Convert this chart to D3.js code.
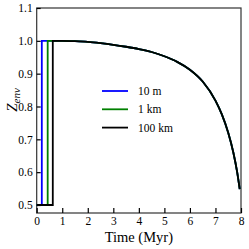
<!DOCTYPE html>
<html><head><meta charset="utf-8">
<script src="https://cdn.jsdelivr.net/npm/d3@7"></script>
<style>body{margin:0;background:#fff}svg{display:block}text{font-family:'Liberation Serif','Times New Roman','DejaVu Serif',serif}</style>
</head><body>
<svg id="c" width="249" height="249"></svg>
<script>
const seriesNames = ["10 m", "1 km", "100 km"];
const seriesColors = ["#0000ff", "#008000", "#000000"];
const jumpTimes = [0.2, 0.43, 0.63];
const curveT = [1.0, 1.5, 2.0, 2.5, 3.0, 3.5, 4.0, 4.5, 5.0, 5.5, 6.0, 6.5, 7.0, 7.25, 7.5, 7.7, 7.85, 7.95];
const curveV = [1.0, 0.999, 0.997, 0.993, 0.988, 0.982, 0.975, 0.966, 0.953, 0.936, 0.912, 0.876, 0.818, 0.776, 0.720, 0.660, 0.600, 0.548];
const xTicks = [0,1,2,3,4,5,6,7,8];
const yTicks = [0.5,0.6,0.7,0.8,0.9,1.0,1.1];

const FONT = "'Liberation Serif','Times New Roman','DejaVu Serif',serif";
const svg = d3.select("#c");
const L = 36.7, R = 241, T = 8, B = 213;
const x = d3.scaleLinear().domain([0, 8]).range([L, R]);
const y = d3.scaleLinear().domain([0.5, 1.1]).range([205, T]);

// frame
svg.append("rect").attr("x", L).attr("y", T).attr("width", R - L).attr("height", B - T)
  .attr("fill", "none").attr("stroke", "#333").attr("stroke-width", 1.2);

// axes (inward ticks)
const xa = svg.append("g").attr("transform", `translate(0,${B})`)
  .call(d3.axisBottom(x).tickValues(xTicks).tickSizeInner(-5).tickSizeOuter(0).tickPadding(4).tickFormat(d3.format("d")));
const ya = svg.append("g").attr("transform", `translate(${L},0)`)
  .call(d3.axisLeft(y).tickValues(yTicks).tickSizeInner(-4).tickSizeOuter(0).tickPadding(4).tickFormat(d3.format(".1f")));
[xa, ya].forEach(g => {
  g.attr("font-family", FONT);
  g.select(".domain").remove();
  g.selectAll("line").attr("stroke", "#000").attr("stroke-width", 1.2);
  g.selectAll("text").style("font-family", FONT).attr("font-size", 11.5).attr("fill", "#000");
});

const straight = d3.line().x(d => x(d[0])).y(d => y(d[1]));
const smooth = d3.line().x(d => x(d[0])).y(d => y(d[1])).curve(d3.curveMonotoneX);
seriesNames.forEach((n, i) => {
  const head = [[0, 0.5], [jumpTimes[i], 0.5], [jumpTimes[i], 1.0]];
  const tail = [[jumpTimes[i], 1.0]];
  curveT.forEach((t, k) => tail.push([t, curveV[k]]));
  svg.append("path").attr("d", straight(head) + "L" + smooth(tail).slice(1))
    .attr("fill", "none").attr("stroke", seriesColors[i]).attr("stroke-width", 1.8);
});

// legend
seriesNames.forEach((n, i) => {
  const ly = 91 + i * 18.3;
  svg.append("line").attr("x1", 102).attr("x2", 128).attr("y1", ly).attr("y2", ly)
    .attr("stroke", seriesColors[i]).attr("stroke-width", 1.8);
  svg.append("text").attr("x", 138).attr("y", ly + 4).text(n)
    .style("font-family", FONT).attr("font-size", 11.5).attr("fill", "#000");
});

// axis titles
svg.append("text").attr("x", (L + R) / 2).attr("y", 242).attr("text-anchor", "middle")
  .style("font-family", FONT).attr("font-size", 14.5).text("Time (Myr)");
const yl = svg.append("text").attr("transform", "translate(17,100) rotate(-90)").attr("text-anchor", "middle")
  .style("font-family", FONT).attr("font-size", 15);
yl.append("tspan").attr("font-style", "italic").text("Z");
yl.append("tspan").attr("font-style", "italic").attr("font-size", 11).attr("dy", 3).text("env");
</script>
</body></html>
